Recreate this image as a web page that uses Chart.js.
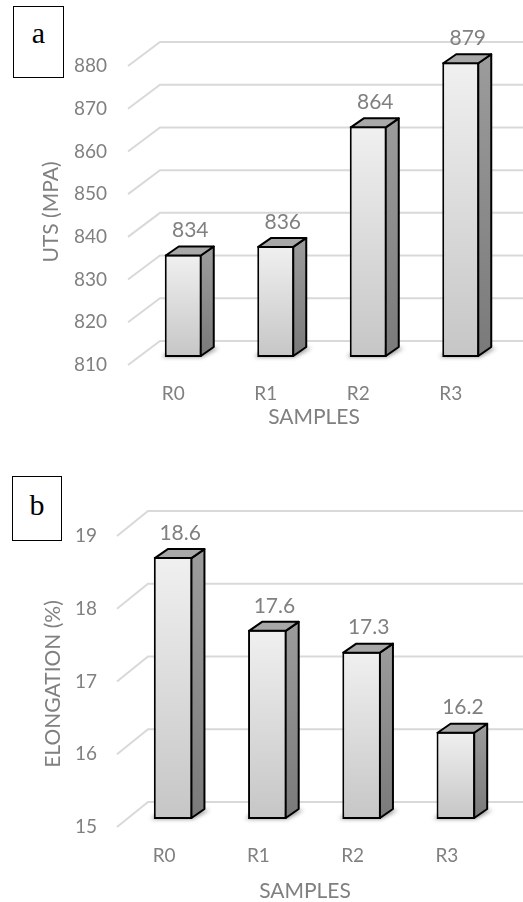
<!DOCTYPE html>
<html>
<head>
<meta charset="utf-8">
<script src="https://cdn.jsdelivr.net/npm/chart.js@4"></script>
<style>
  html, body { margin: 0; padding: 0; background: #fff; }
  #page { position: relative; width: 523px; height: 902px; overflow: hidden; }
  .panel { position: absolute; left: 0; width: 523px; }
  .tag {
    position: absolute; box-sizing: border-box; border: 1.5px solid #000; background: #fff;
    font-family: "Liberation Serif", "DejaVu Serif", serif; font-size: 30px; line-height: 30px;
    text-align: center; color: #000;
  }
</style>
</head>
<body>
<div id="page">
  <div class="panel" style="top:0;height:440px"><canvas id="uts" width="523" height="440"></canvas></div>
  <div class="panel" style="top:440px;height:462px"><canvas id="elong" width="523" height="462"></canvas></div>
  <div class="tag" style="left:13px;top:6px;width:51px;height:72px;padding-top:11px">a</div>
  <div class="tag" style="left:12px;top:476px;width:50px;height:65px;padding-top:13px">b</div>
</div>
<script>
// Sample names and measured properties
const samples = ['R0', 'R1', 'R2', 'R3'];
const utsMPa = [834, 836, 864, 879];
const elongationPct = [18.6, 17.6, 17.3, 16.2];

// Value axis ranges and tick steps
const utsRange = [810, 880];
const utsStep = 10;
const elongRange = [15, 19];
const elongStep = 1;

// Axis titles
const xTitle = 'SAMPLES';
const utsTitle = 'UTS (MPA)';
const elongTitle = 'ELONGATION (%)';

const GREY = '#808080';
const FONT = 'Lato, "Open Sans", sans-serif';

// Light vertical gradient on the front face of each bar
function frontFill(c) {
  const chart = c.chart;
  const y = chart.scales.y;
  if (!chart.chartArea || !y || c.raw == null) return '#dddddd';
  const top = y.getPixelForValue(c.raw);
  const base = y.getPixelForValue(y.min);
  const g = chart.ctx.createLinearGradient(0, top, 0, base);
  g.addColorStop(0, '#f0f0f0');
  g.addColorStop(1, '#c6c6c6');
  return g;
}

// Perspective walls, bar side/top faces, value labels and axis titles
function bar3d(geom, values, yTitle) {
  return {
    id: 'bar3d',
    beforeDatasetsDraw(chart) {
      const { ctx } = chart;
      const y = chart.scales.y;
      ctx.save();
      ctx.strokeStyle = '#d9d9d9';
      ctx.lineWidth = 2;
      y.ticks.forEach(t => {
        const py = y.getPixelForValue(t.value);
        ctx.beginPath();
        ctx.moveTo(geom.wallX0, py + geom.floorFront);
        ctx.lineTo(geom.wallX1, py - geom.floorBack);
        ctx.lineTo(chart.width, py - geom.floorBack);
        ctx.stroke();
      });
      // soft floor shadow under each bar
      const meta = chart.getDatasetMeta(0);
      ctx.filter = 'blur(2px)';
      ctx.fillStyle = 'rgba(0,0,0,0.45)';
      meta.data.forEach(el => {
        const l = el.x - el.width / 2, r = el.x + el.width / 2, b = el.base;
        ctx.beginPath();
        ctx.moveTo(l - 3, b);
        ctx.lineTo(r, b);
        ctx.lineTo(r + geom.dx + 4, b + geom.dy);
        ctx.lineTo(l + geom.dx - 3, b + geom.dy);
        ctx.closePath();
        ctx.fill();
      });
      ctx.restore();
    },
    afterDatasetsDraw(chart) {
      const { ctx } = chart;
      const meta = chart.getDatasetMeta(0);
      const dx = geom.dx, dy = geom.dy;
      ctx.save();
      ctx.lineWidth = 2;
      ctx.strokeStyle = '#000';
      ctx.lineJoin = 'round';
      meta.data.forEach(el => {
        const l = el.x - el.width / 2 + 1;
        const r = el.x + el.width / 2 - 1;
        const t = el.y + 1;
        const b = el.base - 1;
        // side face
        const sg = ctx.createLinearGradient(0, t + dy, 0, b);
        sg.addColorStop(0, '#9c9c9c');
        sg.addColorStop(1, '#7a7a7a');
        ctx.beginPath();
        ctx.moveTo(r, t);
        ctx.lineTo(r + dx, t + dy);
        ctx.lineTo(r + dx, b + dy);
        ctx.lineTo(r, b);
        ctx.closePath();
        ctx.fillStyle = sg;
        ctx.fill();
        ctx.stroke();
        // top face
        ctx.beginPath();
        ctx.moveTo(l, t);
        ctx.lineTo(l + dx, t + dy);
        ctx.lineTo(r + dx, t + dy);
        ctx.lineTo(r, t);
        ctx.closePath();
        ctx.fillStyle = '#a8a8a8';
        ctx.fill();
        ctx.stroke();
      });
      // value labels
      ctx.font = '21px ' + FONT;
      ctx.fillStyle = GREY;
      ctx.textAlign = 'center';
      ctx.textBaseline = 'middle';
      meta.data.forEach((el, i) => {
        ctx.fillText(String(values[i]), el.x + geom.labelDX, el.y - 24);
      });
      ctx.restore();
    },
    afterDraw(chart) {
      const { ctx } = chart;
      ctx.save();
      ctx.font = '21px ' + FONT;
      ctx.fillStyle = GREY;
      ctx.textAlign = 'center';
      ctx.textBaseline = 'middle';
      ctx.fillText(xTitle, geom.xTitleX, geom.xTitleY);
      ctx.translate(geom.yTitleX, geom.yTitleY);
      ctx.rotate(-Math.PI / 2);
      ctx.fillText(yTitle, 0, 0);
      ctx.restore();
    }
  };
}

function makeChart(id, values, range, step, yTitle, geom) {
  const tickFont = { family: FONT, size: 19 };
  return new Chart(document.getElementById(id), {
    type: 'bar',
    data: {
      labels: samples,
      datasets: [{
        data: values,
        base: range[0],
        backgroundColor: frontFill,
        borderColor: '#000',
        borderWidth: 2,
        borderSkipped: false,
        barPercentage: geom.barPct,
        categoryPercentage: 1
      }]
    },
    options: {
      responsive: false,
      animation: false,
      layout: { padding: { top: geom.top, right: geom.right, left: 0, bottom: 0 } },
      plugins: { legend: { display: false }, tooltip: { enabled: false } },
      scales: {
        x: {
          grid: { display: false, drawTicks: false },
          border: { display: false },
          ticks: { font: tickFont, color: GREY, padding: 25, labelOffset: geom.labelShift, maxRotation: 0 },
          afterFit: s => { s.height = geom.xAxisH; }
        },
        y: {
          min: range[0],
          max: range[1],
          grid: { display: false, drawTicks: false },
          border: { display: false },
          ticks: { stepSize: step, font: tickFont, color: GREY, padding: geom.tickPad, labelOffset: 8 },
          afterFit: s => { s.width = geom.left; }
        }
      }
    },
    plugins: [bar3d(geom, values, yTitle)]
  });
}

makeChart('uts', utsMPa, utsRange, utsStep, utsTitle, {
  top: 58, right: 16, left: 137, xAxisH: 83, tickPad: 30, barPct: 0.4,
  labelShift: -10, dx: 13, dy: -9, labelDX: 7,
  wallX0: 128, wallX1: 160, floorFront: 8, floorBack: 16,
  xTitleX: 314, xTitleY: 417, yTitleX: 51, yTitleY: 212
});

makeChart('elong', elongationPct, elongRange, elongStep, elongTitle, {
  top: 88, right: 20, left: 126, xAxisH: 83, tickPad: 29, barPct: 0.41,
  labelShift: -9, dx: 13, dy: -9, labelDX: 7,
  wallX0: 117, wallX1: 148, floorFront: 8, floorBack: 17,
  xTitleX: 305, xTitleY: 451, yTitleX: 53, yTitleY: 244
});
</script>
</body>
</html>
